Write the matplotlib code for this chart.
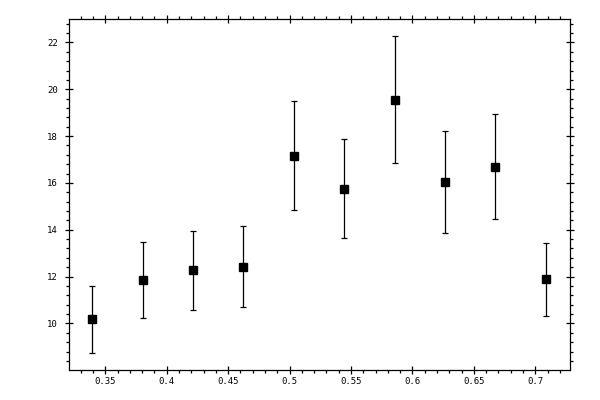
import matplotlib
matplotlib.use("Agg")
import matplotlib.pyplot as plt
from matplotlib.ticker import MultipleLocator, FormatStrFormatter

# values
xVals = [0.3394, 0.3809, 0.4216, 0.4623, 0.5038, 0.5445, 0.5860, 0.6267, 0.6674, 0.7089]
yVals = [10.17, 11.84, 12.26, 12.43, 17.17, 15.76, 19.56, 16.02, 16.70, 11.88]
yErr = [1.44, 1.62, 1.67, 1.73, 2.34, 2.11, 2.70, 2.18, 2.23, 1.57]

plt.rcParams['font.family'] = ['DejaVu Sans Mono']

fig = plt.figure(figsize=(6, 4), dpi=100)
ax = fig.add_axes([0.115, 0.075, 0.835, 0.8775])

ax.errorbar(xVals, yVals, yerr=yErr, fmt='s', color='black', ms=6,
            elinewidth=0.9, capsize=2, capthick=0.9)

ax.set_xlim(0.3205, 0.7282)
ax.set_ylim(8.01, 23)

ax.xaxis.set_major_locator(MultipleLocator(0.05))
ax.xaxis.set_minor_locator(MultipleLocator(0.01))
ax.yaxis.set_major_locator(MultipleLocator(2))
ax.yaxis.set_minor_locator(MultipleLocator(0.4))
ax.xaxis.set_major_formatter(FormatStrFormatter('%g'))
ax.yaxis.set_major_formatter(FormatStrFormatter('%g'))

ax.tick_params(which='major', direction='inout', length=6, width=0.9,
               top=True, right=True, labelsize=6.5, pad=2)
ax.tick_params(axis='y', which='major', pad=5)
ax.tick_params(which='minor', direction='out', length=2.5, width=0.9,
               top=True, right=True)
for s in ax.spines.values():
    s.set_linewidth(0.9)

plt.savefig("out.png", dpi=100)
